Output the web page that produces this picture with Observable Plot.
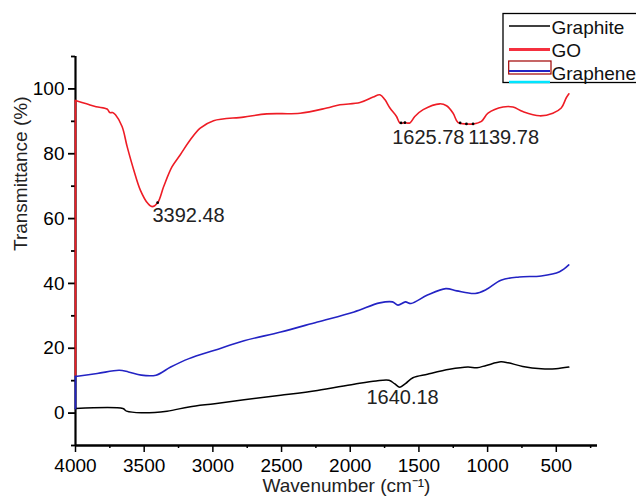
<!DOCTYPE html>
<html>
<head>
<meta charset="utf-8">
<script src="https://cdn.jsdelivr.net/npm/d3@7"></script>
<script src="https://cdn.jsdelivr.net/npm/@observablehq/plot@0.6"></script>
<style>
  html, body { margin: 0; padding: 0; background: white; }
  #wrap { position: relative; width: 636px; height: 500px; font-family: "Liberation Sans", Arial, sans-serif; }
  #legend { position: absolute; left: 0; top: 0; pointer-events: none; }
</style>
</head>
<body>
<div id="wrap"></div>
<script>
// ---- data ----
const seriesNames = ["Graphite", "GO", "Graphene"];
const seriesColors = ["#000000", "#ee1c25", "#2323c4"];

const graphiteX = [4000, 3655, 3628, 3521, 3334, 3174, 2987, 2773, 2506, 2239, 1972, 1812, 1718, 1678, 1639, 1598, 1544, 1438, 1277, 1144, 1077, 1010, 903, 850, 744, 610, 503, 409];
const graphiteY = [1.4, 1.4, 0.6, 0.1, 0.6, 1.9, 2.9, 4.1, 5.5, 7.0, 8.9, 9.9, 10.1, 9.1, 8.0, 9.1, 10.9, 12.0, 13.5, 14.2, 14.0, 14.7, 15.8, 15.5, 14.4, 13.7, 13.7, 14.2];

// the first point of GO and Graphene is where the trace jumps up the 4000 edge
const goX = [4000, 4000, 3920, 3850, 3770, 3750, 3730, 3709, 3661, 3624, 3576, 3528, 3474, 3443, 3402, 3358, 3297, 3237, 3164, 3092, 2995, 2777, 2607, 2365, 2171, 2075, 1929, 1833, 1784, 1748, 1711, 1663, 1639, 1602, 1566, 1530, 1469, 1348, 1299, 1251, 1215, 1154, 1106, 1045, 997, 888, 815, 743, 621, 525, 464, 428, 408];
const goY = [11.5, 96.4, 95.4, 94.5, 93.8, 92.7, 92.7, 92.0, 88.4, 82.2, 75.0, 68.8, 64.7, 63.7, 64.9, 69.9, 76.0, 79.7, 84.3, 87.9, 90.2, 91.3, 92.3, 92.5, 94.1, 95.1, 95.8, 97.5, 98.2, 96.7, 94.1, 91.5, 89.5, 89.6, 89.5, 91.5, 93.6, 95.4, 94.8, 92.5, 89.6, 89.2, 89.2, 90.0, 92.5, 94.4, 94.4, 93.0, 91.7, 92.5, 94.1, 97.2, 98.5];

const grapheneX = [4000, 4000, 3842, 3682, 3615, 3521, 3414, 3307, 3174, 2987, 2773, 2506, 2239, 1972, 1785, 1692, 1652, 1598, 1558, 1438, 1304, 1224, 1091, 1010, 903, 770, 610, 476, 409];
const grapheneY = [1.4, 11.3, 12.2, 13.2, 12.7, 11.7, 11.7, 14.2, 16.8, 19.4, 22.3, 25.0, 28.1, 31.2, 34.0, 34.3, 33.3, 34.3, 33.8, 36.4, 38.4, 37.7, 36.9, 38.1, 41.0, 42.0, 42.3, 43.6, 45.7];

// peak markers on the GO curve
const peakX = [3402, 1630, 1602, 1200, 1154, 1106];
const peakY = [64.9, 89.5, 89.6, 89.5, 89.2, 89.2];

// annotation labels (left edge, vertical centre)
const labelText = ["3392.48", "1625.78", "1139.78", "1640.18"];
const labelX = [3440, 1695, 1141, 1882];
const labelY = [60.8, 84.9, 84.9, 4.8];

const xMajor = [4000, 3500, 3000, 2500, 2000, 1500, 1000, 500];
const xMinor = [3750, 3250, 2750, 2250, 1750, 1250, 750, 250];
const yMajor = [0, 20, 40, 60, 80, 100];
const yMinor = [-10, 10, 30, 50, 70, 90, 110];
const xDomain = [4000, 200];
const yDomain = [-10, 110];
const xTitle = "Wavenumber (cm\u207B\u00B9)";
const yTitle = "Transmittance (%)";

// ---- build tables ----
const toRows = (xs, ys) => xs.map((x, i) => ({x, y: ys[i]}));
const graphite = toRows(graphiteX, graphiteY);
const go = toRows(goX, goY);
const graphene = toRows(grapheneX, grapheneY);
const peaks = toRows(peakX, peakY);
const labels = labelText.map((t, i) => ({t, x: labelX[i], y: labelY[i]}));

const font = "'Liberation Sans', Arial, sans-serif";
const curve = "catmull-rom";

const chart = Plot.plot({
  width: 636,
  height: 500,
  marginLeft: 75,
  marginRight: 39,
  marginTop: 56,
  marginBottom: 55,
  style: {fontFamily: font, fontSize: "19px", color: "black", background: "white"},
  x: {domain: xDomain},
  y: {domain: yDomain},
  marks: [
    Plot.ruleY([yDomain[0]], {stroke: "black", strokeWidth: 2.5}),
    Plot.ruleX([xDomain[0]], {stroke: "black", strokeWidth: 2.2}),
    Plot.axisX({ticks: xMajor, tickFormat: d => String(d), tickSize: 7, tickPadding: 6, fontSize: 19, stroke: "black", strokeWidth: 1.5, label: null}),
    Plot.axisX({ticks: xMinor, tickSize: 3, text: null, stroke: "black", strokeWidth: 1.5, label: null}),
    Plot.axisY({ticks: yMajor, tickFormat: d => String(d), tickSize: 7, tickPadding: 4, fontSize: 19, stroke: "black", strokeWidth: 1.8, label: null}),
    Plot.axisY({ticks: yMinor, tickSize: 4, text: null, stroke: "black", strokeWidth: 1.8, label: null}),
    Plot.line(graphite, {x: "x", y: "y", stroke: seriesColors[0], strokeWidth: 1.5, curve}),
    // vertical jump at the 4000 edge (straight), then the smooth trace
    Plot.line(go.slice(0, 2), {x: "x", y: "y", stroke: seriesColors[1], strokeWidth: 1.8}),
    Plot.line(go.slice(1), {x: "x", y: "y", stroke: seriesColors[1], strokeWidth: 1.6, curve}),
    Plot.line(graphene.slice(0, 2), {x: "x", y: "y", stroke: seriesColors[2], strokeWidth: 1.8}),
    Plot.line(graphene.slice(1), {x: "x", y: "y", stroke: seriesColors[2], strokeWidth: 1.6, curve}),
    Plot.dot(peaks, {x: "x", y: "y", r: 1.4, fill: "black"}),
    Plot.text(labels, {x: "x", y: "y", text: "t", textAnchor: "start", fontSize: 20, fill: "#222"}),
    Plot.text([xTitle], {frameAnchor: "bottom", dy: 46, dx: 10, fontSize: 19, fill: "#222"}),
    Plot.text([yTitle], {frameAnchor: "left", dx: -55, rotate: -90, fontSize: 19, fill: "#222"})
  ]
});

const wrap = document.getElementById("wrap");
wrap.appendChild(chart);

// ---- legend (overlapping the top-right corner, as in the reference) ----
const ns = "http://www.w3.org/2000/svg";
const leg = document.createElementNS(ns, "svg");
leg.setAttribute("id", "legend");
leg.setAttribute("width", 636);
leg.setAttribute("height", 500);
function el(tag, attrs, text) {
  const e = document.createElementNS(ns, tag);
  for (const k in attrs) e.setAttribute(k, attrs[k]);
  if (text) e.textContent = text;
  leg.appendChild(e);
  return e;
}
el("rect", {x: 503, y: 13.5, width: 140, height: 69, fill: "white", stroke: "black", "stroke-width": 1.3});
const legRows = [26, 49.5, 71];
const legBase = [33.5, 57, 80];
el("line", {x1: 509, x2: 550, y1: legRows[0], y2: legRows[0], stroke: seriesColors[0], "stroke-width": 1.6});
el("line", {x1: 509, x2: 550, y1: legRows[1], y2: legRows[1], stroke: "#f5303f", "stroke-width": 3});
el("rect", {x: 508.7, y: 61, width: 42.3, height: 13, fill: "none", stroke: "#a00000", "stroke-width": 1.2});
el("line", {x1: 509, x2: 550, y1: legRows[2], y2: legRows[2], stroke: seriesColors[2], "stroke-width": 2.2});
el("line", {x1: 509, x2: 550, y1: 82, y2: 82, stroke: "#00e5ff", "stroke-width": 2.5});
seriesNames.forEach((n, i) => {
  el("text", {x: 551.5, y: legBase[i], "font-size": 19, "font-family": font, fill: "#111"}, n);
});
wrap.appendChild(leg);
</script>
</body>
</html>
